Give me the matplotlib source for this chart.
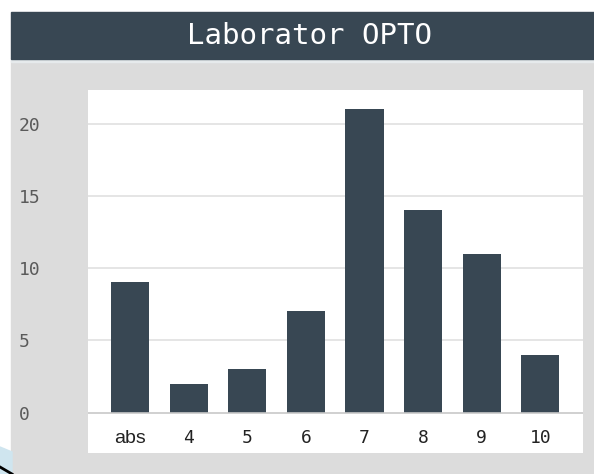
import matplotlib
matplotlib.use('Agg')
import matplotlib.pyplot as plt
from matplotlib.patches import Rectangle, Polygon

# podatki
kategorije = ['abs', '4', '5', '6', '7', '8', '9', '10']
vrednosti = [9, 2, 3, 7, 21, 14, 11, 4]
y_oznake = [0, 5, 10, 15, 20]
naslov = 'Laborator OPTO'

temna = '#384753'
siva = '#dcdcdc'

W, H = 594, 474
fig = plt.figure(figsize=(W / 100, H / 100), dpi=100, facecolor='white')


def px(x0, y0, x1, y1):
    '''Pretvori piksle (od zgoraj levo) v koordinate slike.'''
    return (x0 / W, 1 - y1 / H), (x1 - x0) / W, (y1 - y0) / H


# sivo ozadje in temna naslovna vrstica
xy, w, h = px(11, 60, W, H)
fig.patches.append(Rectangle(xy, w, h, transform=fig.transFigure, color=siva, zorder=-3))
xy, w, h = px(11, 58, W, 62)
fig.patches.append(Rectangle(xy, w, h, transform=fig.transFigure, color='#e6eaec', zorder=-3))
xy, w, h = px(11, 12, W, 59)
fig.patches.append(Rectangle(xy, w, h, transform=fig.transFigure, color=temna, zorder=-2))
fig.text(0.521, 1 - 36 / H, naslov, color='white', ha='center', va='center',
         fontsize=21, family='DejaVu Sans Mono')

# moder ostanek v spodnjem levem kotu
fig.patches.append(Polygon([(0, 1 - 447 / H), (12 / W, 1 - 452 / H), (12 / W, 0), (0, 0)],
                           closed=True, transform=fig.transFigure, color='#cfe5ef', zorder=-2))
fig.lines.append(plt.Line2D([0, 12 / W], [1 - 467 / H, 1 - 474 / H], transform=fig.transFigure,
                            color='black', lw=2, zorder=-1))

ax = fig.add_axes([88 / W, 1 - 453 / H, 495 / W, 363 / H])
ax.set_zorder(1)
ax.set_facecolor('white')

x = list(range(len(kategorije)))
ax.bar(x, vrednosti, width=0.65, color=temna, zorder=3)

for v in y_oznake[1:]:
    ax.axhline(v, color='#e3e3e3', lw=1.3, zorder=1)
ax.axhline(0, color='#c8c8c8', lw=1.2, zorder=4)

ax.set_xlim(-0.72, 7.73)
ax.set_ylim(-2.8, 22.32)

for s in ax.spines.values():
    s.set_visible(False)

ax.set_xticks(x, kategorije)
ax.tick_params(axis='x', length=0, pad=-7.5, labelsize=13, labelcolor='#222222')
for lab in ax.get_xticklabels():
    lab.set_verticalalignment('baseline')
    lab.set_family('Liberation Sans' if lab.get_text() == 'abs' else 'DejaVu Sans Mono')
    if lab.get_text() == 'abs':
        lab.set_fontsize(14)

ax.set_yticks(y_oznake)
ax.tick_params(axis='y', length=0, pad=50, labelsize=13, labelcolor='#5a5a5a')
for lab in ax.get_yticklabels():
    lab.set_horizontalalignment('left')
    lab.set_family('DejaVu Sans Mono')

fig.savefig('out.png', dpi=100, facecolor='white')
